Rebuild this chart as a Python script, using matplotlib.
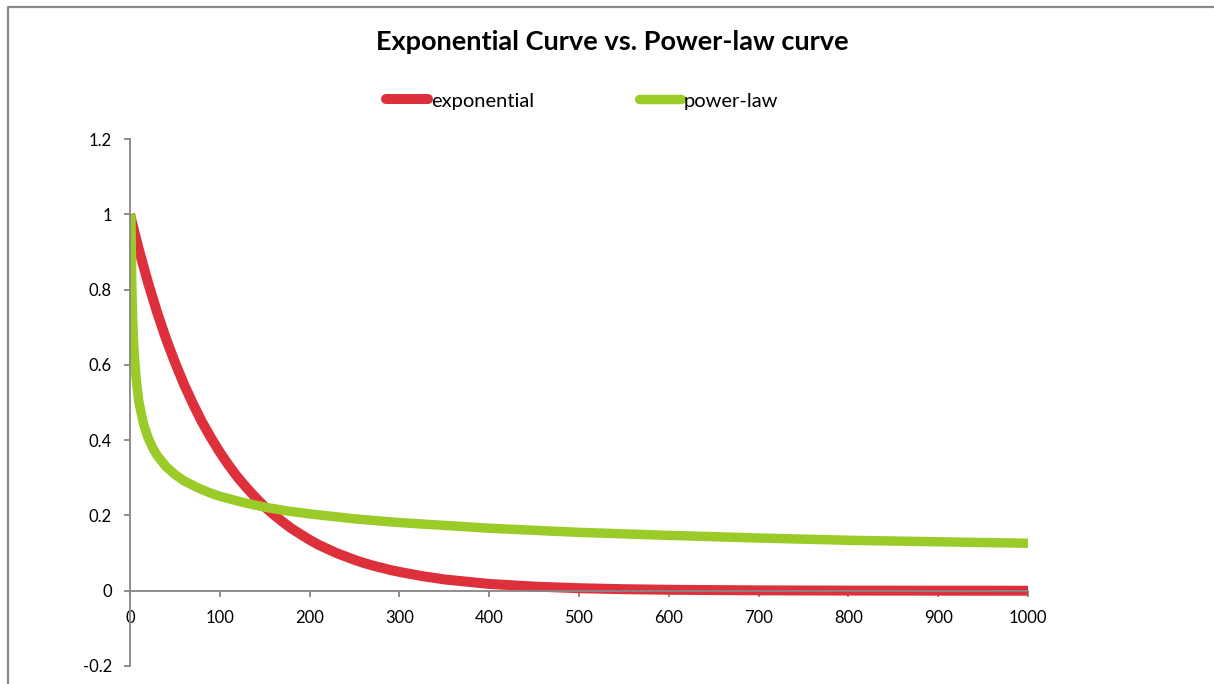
import matplotlib
matplotlib.use("Agg")
import matplotlib.pyplot as plt
from matplotlib.lines import Line2D

plt.rcParams['font.family'] = ['Lato', 'DejaVu Sans']

# values
exp_x = [0, 10, 20, 30, 40, 50, 60, 70, 80, 90, 100, 110, 120, 130, 140,
         150, 160, 170, 180, 190, 200, 210, 220, 230, 240, 250, 260, 270,
         280, 290, 300, 325, 350, 375, 400, 450, 500, 550, 600, 700, 800,
         900, 1000]
exp_y = [1.0, 0.905, 0.819, 0.741, 0.670, 0.607, 0.549, 0.497, 0.449,
         0.407, 0.368, 0.333, 0.301, 0.273, 0.247, 0.223, 0.202, 0.183,
         0.165, 0.150, 0.135, 0.122, 0.111, 0.100, 0.091, 0.082, 0.074,
         0.067, 0.061, 0.055, 0.050, 0.039, 0.030, 0.024, 0.018, 0.011,
         0.0067, 0.0041, 0.0025, 0.0009, 0.0003, 0.0001, 0.0]

pow_x = [1, 2, 3, 4, 5, 7, 10, 15, 20, 25, 30, 40, 50, 60, 75, 90, 100,
         125, 150, 175, 200, 250, 300, 400, 500, 600, 700, 800, 900, 1000]
pow_y = [1.0, 0.81, 0.72, 0.66, 0.62, 0.56, 0.50, 0.444, 0.407, 0.381,
         0.36, 0.33, 0.309, 0.292, 0.274, 0.259, 0.251, 0.235, 0.222,
         0.212, 0.204, 0.191, 0.181, 0.166, 0.155, 0.147, 0.14, 0.134,
         0.13, 0.126]

x_ticks = [0, 100, 200, 300, 400, 500, 600, 700, 800, 900, 1000]
y_ticks = [-0.2, 0, 0.2, 0.4, 0.6, 0.8, 1, 1.2]
y_labels = ['-0.2', '0', '0.2', '0.4', '0.6', '0.8', '1', '1.2']

red = '#DD303B'
green = '#9BCB28'
axis_grey = '#868686'

fig = plt.figure(figsize=(12.14, 6.84), dpi=100)
ax = fig.add_axes([130 / 1214, 18 / 684, 898 / 1214, 527 / 684])

ax.plot(exp_x, exp_y, color=red, lw=7.2, solid_capstyle='butt',
        solid_joinstyle='round', label='exponential')
ax.plot(pow_x, pow_y, color=green, lw=6.8, solid_capstyle='butt',
        solid_joinstyle='round', label='power-law')

ax.set_xlim(0, 1000)
ax.set_ylim(-0.2, 1.2)
ax.set_xticks(x_ticks)
ax.set_yticks(y_ticks)
ax.set_yticklabels(y_labels)

for s in ['top', 'right']:
    ax.spines[s].set_visible(False)
ax.spines['bottom'].set_position(('data', 0))
for s in ['left', 'bottom']:
    ax.spines[s].set_color(axis_grey)
    ax.spines[s].set_linewidth(1.3)
ax.tick_params(axis='both', direction='out', length=4, width=1.3,
               color=axis_grey, labelsize=12, labelcolor='black')
ax.tick_params(axis='y', pad=9)
ax.tick_params(axis='x', pad=10)
ax.patch.set_alpha(0)

fig.text(0.504, 1 - 42 / 684, 'Exponential Curve vs. Power-law curve',
         ha='center', va='center', fontsize=19.5, fontweight='bold')

leg = fig.legend(loc='center', bbox_to_anchor=(582 / 1214, 1 - 101 / 684),
                 ncol=2, frameon=False, fontsize=14.5, handlelength=2.1,
                 handletextpad=0.15, columnspacing=5.2)
for h in leg.get_lines():
    h.set_solid_capstyle('round')

# chart border (top and left edges)
fig.add_artist(Line2D([8 / 1214, 8 / 1214, 1.0], [0, 1 - 7 / 684, 1 - 7 / 684],
                      transform=fig.transFigure, color='#8a8a8a', lw=1.6))

fig.savefig('out.png', dpi=100)
